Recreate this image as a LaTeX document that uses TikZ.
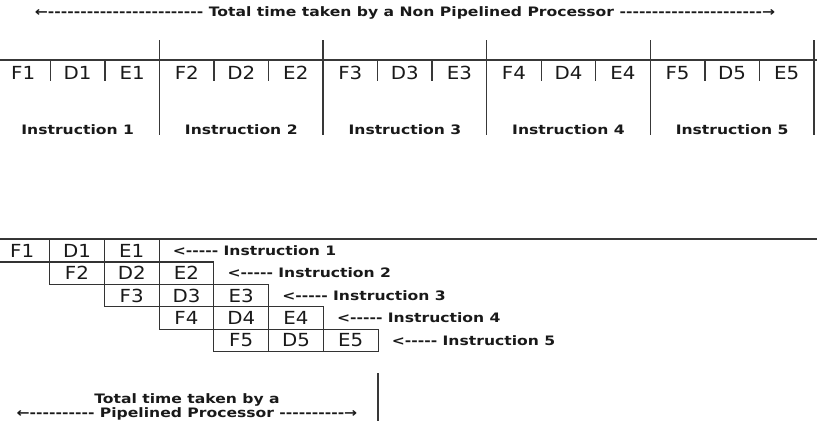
\documentclass[tikz,border=0pt]{standalone}
\usepackage{fontspec}
\newfontfamily\stagefont[FakeStretch=1.1]{DejaVu Sans}
\newfontfamily\boldlbl[FakeStretch=1.2]{DejaVu Sans}
\newcount\dshc
\newcommand\dsh[1]{\dshc=0 \loop\ifnum\dshc<#1 -\kern0pt\advance\dshc by 1 \repeat}
\begin{document}
\begin{tikzpicture}[x=1pt,y=-1pt,
  ln/.style={draw=black!78, line width=1.4pt},
  mainln/.style={draw=black!78, line width=1.8pt},
  stg/.style={font=\stagefont\fontsize{18}{18}\selectfont, text=black!90, inner sep=0pt},
  lbl/.style={font=\boldlbl\bfseries\fontsize{13}{13}\selectfont, text=black!90, inner sep=0pt},
  cell/.style={draw=black!80, line width=1.1pt, minimum width=54.75pt, minimum height=22.4pt,
    inner sep=0pt, anchor=north west, font=\stagefont\fontsize{18}{18}\selectfont, text=black!90}
]
\useasboundingbox (0,0) rectangle (817,423);
% title
\node[lbl] (title) at (405,13) {←\dsh{24} Total time taken by a Non Pipelined Processor \dsh{22}→};
% non pipelined
\draw[mainln] (0,60) -- (817,60);
\foreach \i in {1,...,5} {
  \pgfmathsetmacro\L{159.5+163.6*(\i-1)}
  \pgfmathsetmacro\S{\L-163.6}
  \draw[ln] (\L,40) -- (\L,135);
  \draw[ln] (\S+54.5,60) -- (\S+54.5,81);
  \draw[ln] (\S+109,60) -- (\S+109,81);
  \node[stg] (tF\i) at (\S+27.25,73) {F\i};
  \node[stg] (tD\i) at (\S+81.75,73) {D\i};
  \node[stg] (tE\i) at (\S+136.3,73) {E\i};
  \node[lbl] (tI\i) at (\S+81.8,130) {Instruction \i};
}
% pipelined
\draw[mainln] (0,239) -- (817,239);
\foreach \i in {1,...,5} {
  \pgfmathsetmacro\X{-5.75+54.75*(\i-1)}
  \pgfmathsetmacro\Y{239+22.4*(\i-1)}
  \node[cell] (pF\i) at (\X,\Y) {F\i};
  \node[cell] (pD\i) at (\X+54.75,\Y) {D\i};
  \node[cell] (pE\i) at (\X+109.5,\Y) {E\i};
  \node[lbl, anchor=west] (pI\i) at ([xshift=13pt]pE\i.east) {<\dsh{5} Instruction \i};
}
\draw[ln] (378,373) -- (378,421);
\node[lbl] (bt1) at (187,400) {Total time taken by a};
\node[lbl] (bt2) at (187,414) {←\dsh{10} Pipelined Processor \dsh{10}→};
\end{tikzpicture}
\end{document}
